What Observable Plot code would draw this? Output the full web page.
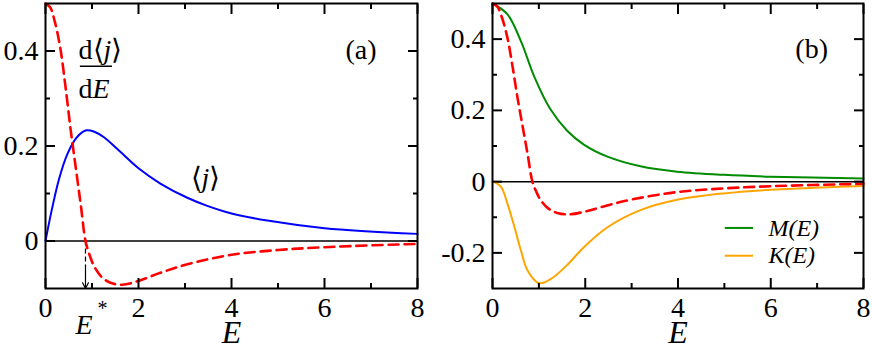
<!DOCTYPE html>
<html>
<head>
<meta charset="utf-8">
<script src="https://cdn.jsdelivr.net/npm/d3@7"></script>
<script src="https://cdn.jsdelivr.net/npm/@observablehq/plot@0.6"></script>
<style>
  html, body { margin: 0; padding: 0; background: #fff; }
  #chart { position: relative; width: 872px; height: 349px; overflow: hidden; }
  #pa { position: absolute; left: 0; top: 0; }
  #pb { position: absolute; left: 440px; top: 0; }
  #chart svg text, #chart svg tspan { font-family: "Liberation Serif", "Times New Roman", serif !important; }
</style>
</head>
<body>
<div id="chart"><div id="pa"></div><div id="pb"></div></div>
<script>
// ---- data ----
// <j> (panel a, blue)
const jE = [0, 0.11, 0.29, 0.47, 0.68, 0.88, 1.05, 1.25, 1.54, 2.0, 2.47, 3.05, 3.48, 4.0, 4.77, 6.0, 8.0];
const jV = [0, 0.054, 0.130, 0.183, 0.219, 0.233, 0.230, 0.219, 0.194, 0.153, 0.121, 0.091, 0.074, 0.058, 0.043, 0.027, 0.015];
// d<j>/dE (both panels, red dashed)
const djE = [0, 0.1, 0.2, 0.32, 0.43, 0.54, 0.65, 0.76, 0.86, 0.95, 1.04, 1.2, 1.4, 1.65, 2.0, 2.47, 3.05, 4.0, 5.0, 6.0, 8.0];
const djV = [0.5, 0.492, 0.462, 0.405, 0.325, 0.235, 0.155, 0.075, 0, -0.03, -0.052, -0.075, -0.088, -0.092, -0.084, -0.067, -0.049, -0.029, -0.019, -0.013, -0.006];
// M(E) (panel b, green)
const mE = [0, 0.32, 0.61, 0.90, 1.25, 1.61, 1.97, 2.48, 3.19, 3.98, 4.99, 5.99, 8.0];
const mV = [0.5, 0.470, 0.395, 0.295, 0.203, 0.143, 0.104, 0.070, 0.043, 0.028, 0.019, 0.014, 0.009];
// K(E) (panel b, orange)
const kE = [0, 0.18, 0.32, 0.47, 0.61, 0.75, 1.0, 1.25, 1.61, 1.97, 2.48, 3.19, 3.98, 4.99, 5.99, 8.0];
const kV = [0, -0.014, -0.061, -0.126, -0.192, -0.248, -0.285, -0.274, -0.234, -0.184, -0.128, -0.080, -0.051, -0.033, -0.023, -0.012];
// E* marker
const eStar = [0.86];
// ticks
const xMajor = [0, 2, 4, 6, 8];
const xMinor = [1, 3, 5, 7];
const xLabels = [0, 2, 4, 6, 8];
const yaMajor = [0, 0.2, 0.4];
const yaMinor = [0.1, 0.3];
const ybMajor = [-0.2, 0, 0.2, 0.4];
const ybMinor = [-0.1, 0.1, 0.3];
// legend
const legendNames = ["M(E)", "K(E)"];
const legendColors = ["#008b00", "#ffa500"];

const toRows = (xs, ys) => xs.map((x, i) => ({x, y: ys[i]}));
const FONT = "Liberation Serif, Times New Roman, serif";

function frameAxes(xMaj, xMin, yMaj, yMin, yLab) {
  const tk = (fn, ticks, anchor, size) => fn(ticks, {
    anchor, tickSize: size, tickFormat: () => "", label: null, strokeWidth: 2,
    ...(anchor === "bottom" ? {dy: -size} : anchor === "top" ? {dy: size} : anchor === "left" ? {dx: size} : {dx: -size})
  });
  return [
    tk(Plot.axisX, xMaj, "bottom", 10), tk(Plot.axisX, xMaj, "top", 10),
    tk(Plot.axisX, xMin, "bottom", 5), tk(Plot.axisX, xMin, "top", 5),
    tk(Plot.axisY, yMaj, "left", 10), tk(Plot.axisY, yMaj, "right", 10),
    tk(Plot.axisY, yMin, "left", 5), tk(Plot.axisY, yMin, "right", 5),
    Plot.axisX(xLabels, {anchor: "bottom", tickSize: 0, tickPadding: 9, fontSize: 28, fontFamily: FONT, label: null, tickFormat: d => String(d)}),
    Plot.axisY(yLab, {anchor: "left", tickSize: 0, tickPadding: 7, fontSize: 28, fontFamily: FONT, label: null, tickFormat: d => String(d)}),
    Plot.frame({stroke: "black", strokeWidth: 2})
  ];
}
const note = (text, x, y, opts = {}) =>
  Plot.text([{text, x, y}], {x: "x", y: "y", text: "text", textAnchor: "start", lineAnchor: "bottom", fontSize: 28, fontFamily: FONT, fill: "black", ...opts});

// ---- panel (a) ----
const pa = Plot.plot({
  width: 440, height: 349,
  marginLeft: 45, marginRight: 23, marginTop: 3, marginBottom: 61,
  x: {domain: [0, 8]}, y: {domain: [-0.1, 0.5]},
  style: {fontFamily: FONT, fontSize: "28px", color: "black", background: "white", overflow: "visible"},
  marks: [
    Plot.ruleY([0], {stroke: "black", strokeWidth: 1.5}),
    Plot.ruleX(eStar, {x: d => d, y1: 0, y2: -0.05, stroke: "black", strokeWidth: 1.2, strokeDasharray: "5,3"}),
    Plot.arrow(eStar, {x1: d => d, x2: d => d, y1: -0.05, y2: -0.1, stroke: "black", strokeWidth: 1.2, headLength: 8, headAngle: 55}),
    Plot.line(toRows(jE, jV), {x: "x", y: "y", stroke: "#0000ff", strokeWidth: 2, curve: "catmull-rom"}),
    Plot.line(toRows(djE, djV), {x: "x", y: "y", stroke: "#ff0000", strokeWidth: 2.6, strokeDasharray: "10,6", curve: "catmull-rom"}),
    ...frameAxes(xMajor, xMinor, yaMajor, yaMinor, yaMajor),
    Plot.text(["E"], {x: 4, frameAnchor: "bottom", text: d => d, dy: 44, lineAnchor: "middle", fontSize: 32, fontStyle: "italic", fontFamily: FONT}),
    note("(a)", 6.45, 0.384),
    note("d⟨j⟩", 0.71, 0.384),
    Plot.ruleY([{y: 0.368, x1: 0.75, x2: 1.44}], {y: "y", x1: "x1", x2: "x2", stroke: "black", strokeWidth: 1.5}),
    note("dE", 0.71, 0.302),
    note("⟨j⟩", 3.12, 0.114),
    note("E", 0.645, -0.196, {fontStyle: "italic"}),
    note("*", 1.12, -0.156, {fontSize: 20})
  ]
});

// ---- panel (b) ----
const pb = Plot.plot({
  width: 432, height: 349,
  marginLeft: 52, marginRight: 9, marginTop: 3, marginBottom: 61,
  x: {domain: [0, 8]}, y: {domain: [-0.3, 0.5]},
  style: {fontFamily: FONT, fontSize: "28px", color: "black", background: "white", overflow: "visible"},
  marks: [
    Plot.ruleY([0], {stroke: "black", strokeWidth: 1.5}),
    Plot.line(toRows(mE, mV), {x: "x", y: "y", stroke: legendColors[0], strokeWidth: 2, curve: "catmull-rom"}),
    Plot.line(toRows(kE, kV), {x: "x", y: "y", stroke: legendColors[1], strokeWidth: 2, curve: "catmull-rom"}),
    Plot.line(toRows(djE, djV), {x: "x", y: "y", stroke: "#ff0000", strokeWidth: 2.6, strokeDasharray: "10,6", curve: "catmull-rom"}),
    ...frameAxes(xMajor, xMinor, ybMajor, ybMinor, ybMajor),
    Plot.text(["E"], {x: 4, frameAnchor: "bottom", text: d => d, dy: 44, lineAnchor: "middle", fontSize: 32, fontStyle: "italic", fontFamily: FONT}),
    note("(b)", 6.53, 0.347),
    Plot.ruleY(legendNames.map((n, i) => ({n, i})), {y: d => -0.130 - d.i * 0.078, x1: 5.02, x2: 5.63, stroke: d => legendColors[d.i], strokeWidth: 2}),
    Plot.text(legendNames.map((n, i) => ({n, i})), {x: 5.95, y: d => -0.130 - d.i * 0.078, text: "n", textAnchor: "start", lineAnchor: "middle", fontSize: 24, fontStyle: "italic", fontFamily: FONT, fill: "black"})
  ]
});

document.getElementById("pa").appendChild(pa);
document.getElementById("pb").appendChild(pb);

// mixed upright/italic math labels
function richify(svg, content, parts) {
  d3.select(svg).selectAll("text").filter(function() { return this.textContent === content; }).each(function() {
    const t = d3.select(this);
    t.text(null);
    parts.forEach(([s, it]) => t.append("tspan").attr("font-style", it ? "italic" : "normal").text(s));
  });
}
richify(pa, "d⟨j⟩", [["d⟨", false], ["j", true], ["⟩", false]]);
richify(pa, "⟨j⟩", [["⟨", false], ["j", true], ["⟩", false]]);
richify(pa, "dE", [["d", false], ["E", true]]);
</script>
</body>
</html>
